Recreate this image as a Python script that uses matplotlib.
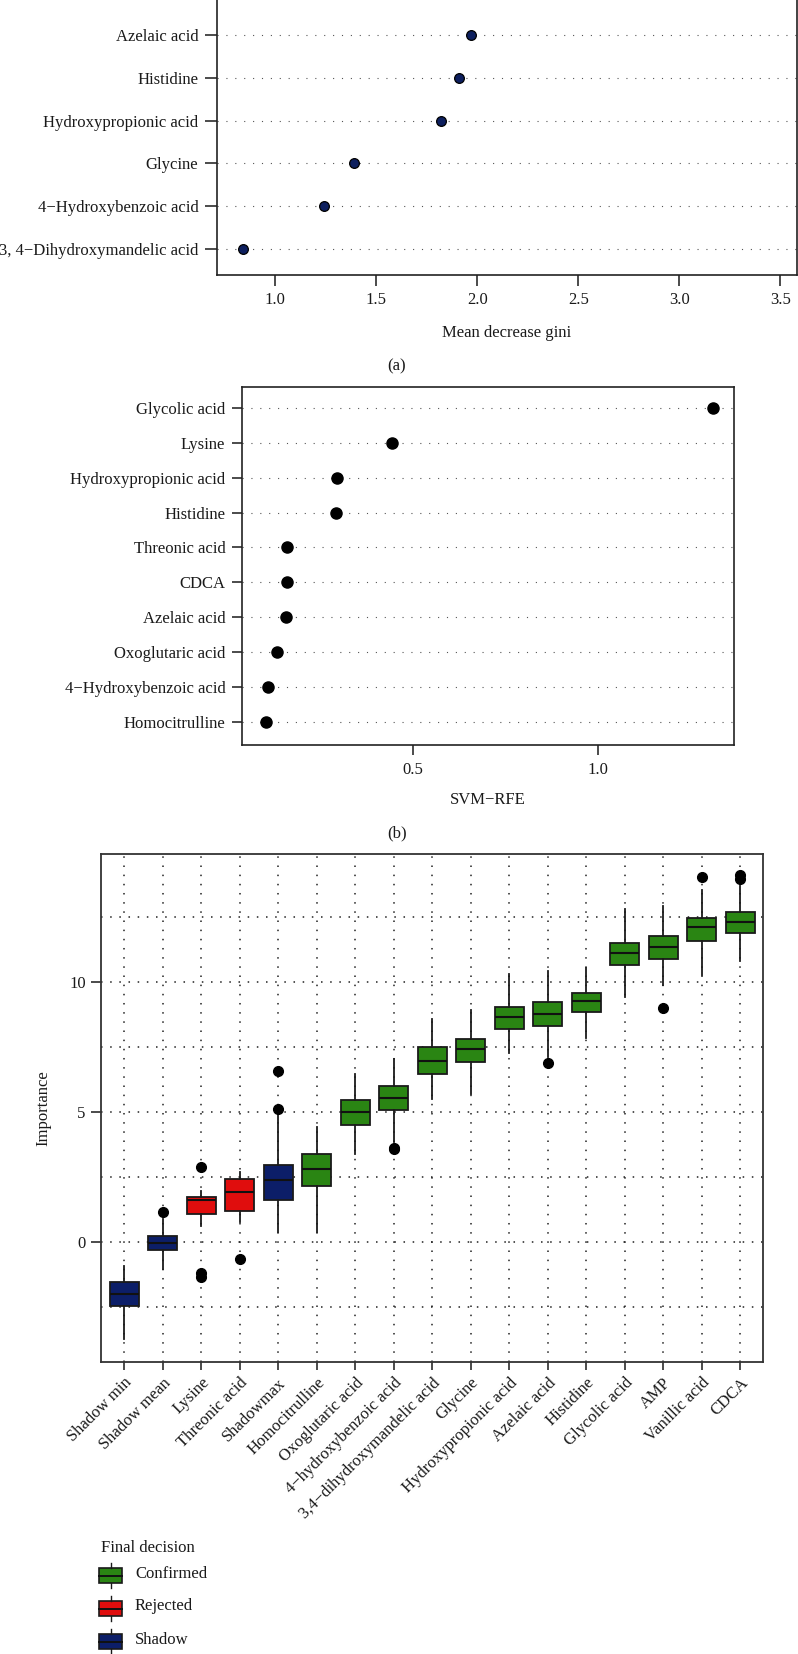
import matplotlib
matplotlib.use("Agg")
import matplotlib.pyplot as plt
from matplotlib.patches import Rectangle

plt.rcParams['font.family'] = ['Liberation Serif', 'DejaVu Serif']
plt.rcParams['text.color'] = '#1a1a1a'
plt.rcParams['xtick.color'] = '#1a1a1a'
plt.rcParams['ytick.color'] = '#1a1a1a'

# (a) random forest, bottom to top
gini_names = ["3, 4\u2212Dihydroxymandelic acid", "4\u2212Hydroxybenzoic acid", "Glycine",
              "Hydroxypropionic acid", "Histidine", "Azelaic acid"]
gini_vals = [0.84, 1.24, 1.39, 1.82, 1.91, 1.97]

# (b) SVM-RFE, bottom to top
svm_names = ["Homocitrulline", "4\u2212Hydroxybenzoic acid", "Oxoglutaric acid", "Azelaic acid",
             "CDCA", "Threonic acid", "Histidine", "Hydroxypropionic acid", "Lysine", "Glycolic acid"]
svm_vals = [0.101, 0.107, 0.131, 0.154, 0.157, 0.158, 0.290, 0.292, 0.441, 1.314]

# (c) Boruta
features = ["Shadow min", "Shadow mean", "Lysine", "Threonic acid", "Shadowmax", "Homocitrulline",
            "Oxoglutaric acid", "4\u2212hydroxybenzoic acid", "3,4\u2212dihydroxymandelic acid",
            "Glycine", "Hydroxypropionic acid", "Azelaic acid", "Histidine", "Glycolic acid",
            "AMP", "Vanillic acid", "CDCA"]
decision = ["Shadow", "Shadow", "Rejected", "Rejected", "Shadow"] + ["Confirmed"] * 12
q1 = [-2.49, -0.32, 1.08, 1.18, 1.61, 2.16, 4.49, 5.06, 6.48, 6.93, 8.21, 8.32, 8.84, 10.68, 10.91, 11.59, 11.91]
med = [-2.00, -0.04, 1.62, 1.90, 2.38, 2.80, 5.00, 5.54, 6.97, 7.43, 8.64, 8.79, 9.28, 11.14, 11.35, 12.11, 12.31]
q3 = [-1.57, 0.23, 1.74, 2.41, 2.96, 3.39, 5.47, 6.00, 7.52, 7.81, 9.06, 9.24, 9.58, 11.53, 11.77, 12.47, 12.70]
wlo = [-3.76, -1.05, 0.62, 0.75, 0.39, 0.39, 3.38, 3.86, 5.49, 5.68, 7.29, 7.13, 7.86, 9.44, 9.90, 10.28, 10.82]
whi = [-0.93, 0.88, 1.97, 2.68, 4.95, 4.43, 6.46, 7.03, 8.59, 8.93, 10.31, 10.45, 10.56, 12.81, 12.93, 13.56, 13.69]
fliers = [[], [1.16], [2.89, -1.22, -1.37], [-0.67], [5.12, 6.57], [], [], [3.56, 3.62], [], [],
          [], [6.90], [], [], [9.02], [14.07], [14.14, 13.97]]

legend_order = ["Confirmed", "Rejected", "Shadow"]
colors = {"Confirmed": "#2a8513", "Rejected": "#e00d0d", "Shadow": "#0c1e68"}

W, H = 798, 1654
fig = plt.figure(figsize=(W / 100, H / 100), dpi=100)


def box(x0, top, x1, bottom):
    return [x0 / W, 1 - bottom / H, (x1 - x0) / W, (bottom - top) / H]


def px(x, y):
    return x / W, 1 - y / H


fs = 12
dots = (0, (1, 7))

# ---------- (a)
ax1 = fig.add_axes(box(217, -10, 797, 275))
ypos = range(1, len(gini_vals) + 1)
ax1.plot(gini_vals, ypos, 'o', ms=7, mfc='#0d1f5e', mec='black', mew=0.9, zorder=3)
ax1.set_yticks(list(ypos))
ax1.set_yticklabels(gini_names, fontsize=fs)
ax1.set_xticks([1.0, 1.5, 2.0, 2.5, 3.0, 3.5])
ax1.set_xticklabels(['1.0', '1.5', '2.0', '2.5', '3.0', '3.5'], fontsize=fs)
ax1.set_xlim(0.711, 3.583)
ax1.set_ylim(0.395, 7.05)
ax1.grid(axis='y', color='#555555', linestyle=dots, linewidth=0.8)
ax1.tick_params(axis='y', length=8.5, width=1.1, pad=5)
ax1.tick_params(axis='x', length=8, width=1.1, pad=4)
for s in ax1.spines.values():
    s.set_linewidth(1.2)
    s.set_color('#222222')
fig.text(*px(507, 333), "Mean decrease gini", fontsize=fs, ha='center', va='center')
fig.text(*px(397, 366), "(a)", fontsize=fs, ha='center', va='center')

# ---------- (b)
ax2 = fig.add_axes(box(242, 387, 734, 745))
ypos = range(1, len(svm_vals) + 1)
ax2.plot(svm_vals, ypos, 'o', ms=8, color='black', zorder=3)
ax2.set_yticks(list(ypos))
ax2.set_yticklabels(svm_names, fontsize=fs)
ax2.set_xticks([0.5, 1.0])
ax2.set_xticklabels(['0.5', '1.0'], fontsize=fs)
ax2.set_xlim(0.0355, 1.3696)
ax2.set_ylim(0.35, 10.59)
ax2.grid(axis='y', color='#555555', linestyle=dots, linewidth=0.8)
ax2.tick_params(axis='y', length=7, width=1.1, pad=5)
ax2.tick_params(axis='x', length=7, width=1.1, pad=5)
for s in ax2.spines.values():
    s.set_linewidth(1.2)
    s.set_color('#222222')
fig.text(*px(488, 800), "SVM\u2212RFE", fontsize=fs, ha='center', va='center')
fig.text(*px(397, 833), "(b)", fontsize=fs, ha='center', va='center')

# ---------- (c)
ax3 = fig.add_axes(box(101, 854.3, 763.3, 1362.3))
pos = list(range(1, len(features) + 1))
stats = []
for i in range(len(features)):
    stats.append(dict(med=med[i], q1=q1[i], q3=q3[i], whislo=wlo[i], whishi=whi[i],
                      fliers=fliers[i], label=features[i]))
bp = ax3.bxp(stats, positions=pos, widths=0.75, patch_artist=True, showcaps=False,
             boxprops=dict(edgecolor='#1a1a1a', linewidth=1.3),
             medianprops=dict(color='#111111', linewidth=1.5),
             whiskerprops=dict(color='#1a1a1a', linewidth=1.3),
             flierprops=dict(marker='o', markersize=7, markerfacecolor='black',
                             markeredgecolor='black'),
             zorder=3)
for patch, d in zip(bp['boxes'], decision):
    patch.set_facecolor(colors[d])
ax3.set_xlim(0.4, 17.6)
ax3.set_ylim(-4.65, 14.93)
ax3.set_xticks(pos)
ax3.set_xticklabels(features, fontsize=fs, rotation=45, ha='right', va='top',
                    rotation_mode='anchor')
ax3.set_yticks([0, 5, 10])
ax3.set_yticklabels(['0', '5', '10'], fontsize=fs)
ax3.set_yticks([-2.5, 2.5, 7.5, 12.5], minor=True)
ax3.tick_params(axis='y', which='minor', length=0)
ax3.tick_params(axis='y', which='major', length=7, width=1.1, pad=4)
ax3.tick_params(axis='x', length=6, width=1.1, pad=3)
ax3.grid(which='both', color='#222222', linestyle=(0, (1, 5)), linewidth=1.1)
ax3.set_axisbelow(True)
for s in ax3.spines.values():
    s.set_linewidth(1.3)
    s.set_color('#333333')
fig.text(*px(43, 1108), "Importance", fontsize=fs, ha='center', va='center', rotation=90)

# ---------- legend
lax = fig.add_axes(box(90, 1530, 320, 1654))
lax.set_xlim(90, 320)
lax.set_ylim(1654, 1530)
lax.axis('off')
lax.text(101, 1548, "Final decision", fontsize=fs, ha='left', va='center')
for i, d in enumerate(legend_order):
    yc = 1575.5 + i * 33
    lax.add_patch(Rectangle((99, yc - 7.5), 23, 15, facecolor=colors[d],
                            edgecolor='#1a1a1a', linewidth=1.2))
    lax.plot([99, 122], [yc, yc], color='#111111', lw=1.4)
    lax.plot([110.5, 110.5], [yc - 12.5, yc - 7.5], color='#1a1a1a', lw=1.0)
    lax.plot([110.5, 110.5], [yc + 7.5, yc + 12.5], color='#1a1a1a', lw=1.0)
    lax.text(135, yc - 2, d, fontsize=fs, ha='left', va='center')

fig.savefig("out.png", dpi=100)
